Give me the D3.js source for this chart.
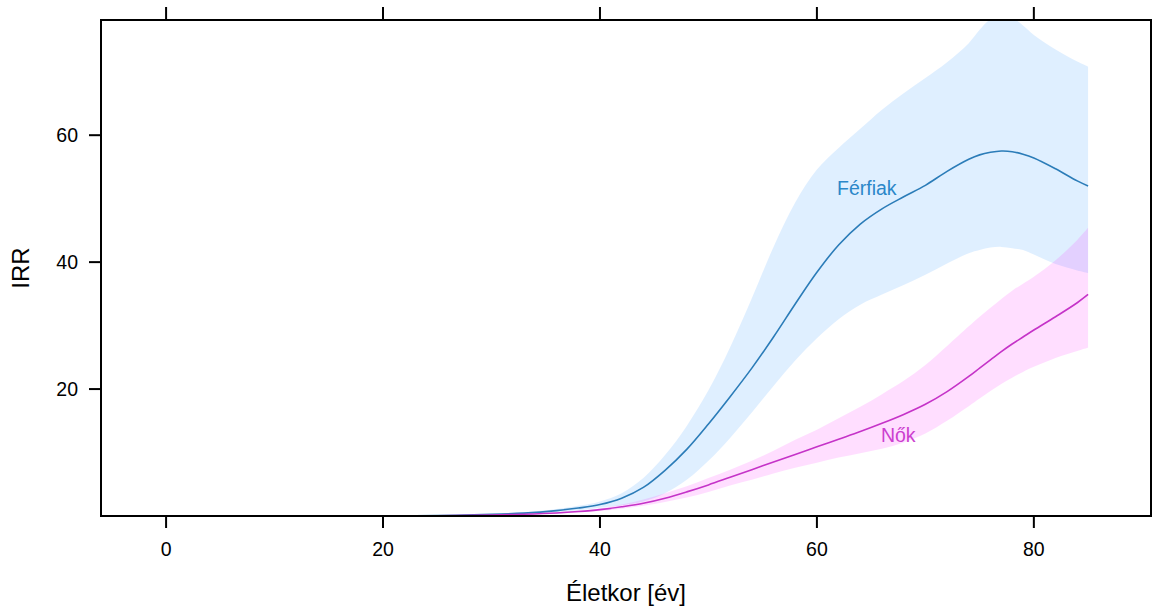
<!DOCTYPE html>
<html><head><meta charset="utf-8">
<script src="https://cdn.jsdelivr.net/npm/d3@7"></script>
<style>body{margin:0;background:#fff;} svg{display:block;font-family:"Liberation Sans",Arial,sans-serif;}</style>
</head><body>
<svg id="c" width="1153" height="608"></svg>
<script>
const ages = [20,25,30,33,36,38,40,42,44,46,48,50,52,54,56,58,60,62,64,66,68,70,72,74,75,76,77,78,79,80,82,84,85];
const menFit = [0.02,0.08,0.25,0.45,0.85,1.25,1.8,2.8,4.5,7.2,10.5,14.5,18.8,23.3,28.2,33.4,38.4,42.7,46.0,48.4,50.3,52.1,54.3,56.2,56.9,57.3,57.5,57.4,57.0,56.4,54.7,52.8,52.0];
const menUpper = [0.03,0.1,0.32,0.58,1.1,1.6,2.3,3.6,6.0,9.6,14.2,19.8,26.6,34.3,42.4,49.4,54.6,58.0,61.0,64.0,66.6,69.0,71.5,74.5,76.6,78.3,79.0,78.5,77.3,75.8,73.5,71.6,70.8];
const menLower = [0.01,0.05,0.18,0.33,0.62,0.9,1.3,1.7,2.3,3.6,5.7,8.7,12.3,16.3,20.5,24.5,28.0,31.0,33.3,34.9,36.4,38.0,39.8,41.4,41.9,42.3,42.4,42.2,41.9,41.2,39.7,38.7,38.3];
const womenFit = [0.01,0.05,0.15,0.28,0.48,0.7,1.0,1.45,2.0,2.8,3.8,4.9,6.1,7.3,8.5,9.7,10.9,12.1,13.3,14.6,16.0,17.6,19.6,22.0,23.3,24.6,25.9,27.1,28.2,29.3,31.4,33.6,34.9];
const womenUpper = [0.02,0.07,0.2,0.36,0.6,0.85,1.2,1.8,2.6,3.6,4.7,6.0,7.3,8.7,10.3,12.0,13.6,15.4,17.2,19.2,21.3,23.8,26.8,29.9,31.4,32.8,34.2,35.5,36.6,37.7,40.3,43.5,45.4];
const womenLower = [0.005,0.03,0.11,0.21,0.38,0.56,0.8,1.15,1.6,2.2,2.9,3.8,4.8,5.7,6.7,7.6,8.4,9.2,9.9,10.6,11.6,13.0,15.0,17.3,18.5,19.7,20.8,21.8,22.7,23.5,24.9,26.0,26.5];
const xTicks = [0,20,40,60,80];
const yTicks = [20,40,60];
const seriesNames = ["Férfiak","Nők"];
const labelPos = [{age:64.6, val:50.6},{age:67.5, val:11.7}];
const xTitle = "Életkor [év]";
const yTitle = "IRR";

const L=101, R=1151, T=20, B=516;
const svg = d3.select("#c");
const x = d3.scaleLinear().domain([-6.0, 90.8]).range([L,R]);
const y = d3.scaleLinear().domain([0, 78.15]).range([B,T]);

svg.append("defs").append("clipPath").attr("id","clip")
  .append("rect").attr("x",L).attr("y",T).attr("width",R-L).attr("height",B-T);

const g = svg.append("g").attr("clip-path","url(#clip)");
const curve = d3.curveCatmullRom.alpha(0.5);
const mk = (fit, lo, hi) => ages.map((a,i)=>({a, f:fit[i], lo:lo[i], hi:hi[i]}));
const men = mk(menFit, menLower, menUpper);
const women = mk(womenFit, womenLower, womenUpper);
const area = d3.area().x(d=>x(d.a)).y0(d=>y(d.lo)).y1(d=>y(d.hi)).curve(curve);
const line = d3.line().x(d=>x(d.a)).y(d=>y(d.f)).curve(curve);

g.append("path").datum(men).attr("d",area).attr("fill","rgb(0,128,255)").attr("fill-opacity",0.125);
g.append("path").datum(women).attr("d",area).attr("fill","rgb(255,0,255)").attr("fill-opacity",0.13);
g.append("path").datum(men).attr("d",line).attr("fill","none").attr("stroke","#2b7cb8").attr("stroke-width",1.6);
g.append("path").datum(women).attr("d",line).attr("fill","none").attr("stroke","#c533c8").attr("stroke-width",1.6);

const labelColors = ["#2b87c9","#cc3fcf"];
seriesNames.forEach((n,i)=>{
  svg.append("text").attr("x",x(labelPos[i].age)).attr("y",y(labelPos[i].val))
    .attr("text-anchor","middle").attr("font-size",19.5).attr("fill",labelColors[i]).text(n);
});

// frame
svg.append("rect").attr("x",L).attr("y",T).attr("width",R-L).attr("height",B-T)
  .attr("fill","none").attr("stroke","#000").attr("stroke-width",2);

// axes
const ax = svg.append("g").attr("stroke","#000").attr("stroke-width",2);
xTicks.forEach(v=>{
  ax.append("line").attr("x1",x(v)).attr("x2",x(v)).attr("y1",B).attr("y2",B+12);
  ax.append("line").attr("x1",x(v)).attr("x2",x(v)).attr("y1",T).attr("y2",T-13);
  svg.append("text").attr("x",x(v)).attr("y",556).attr("text-anchor","middle")
    .attr("font-size",19.5).attr("fill","#000").text(v);
});
yTicks.forEach(v=>{
  ax.append("line").attr("x1",L-12).attr("x2",L).attr("y1",y(v)).attr("y2",y(v));
  svg.append("text").attr("x",78).attr("y",y(v)).attr("dy","0.35em").attr("text-anchor","end")
    .attr("font-size",19.5).attr("fill","#000").text(v);
});

svg.append("text").attr("x",(L+R)/2).attr("y",601).attr("text-anchor","middle")
  .attr("font-size",24).attr("fill","#000").text(xTitle);
svg.append("text").attr("transform",`translate(29,${(T+B)/2}) rotate(-90)`).attr("text-anchor","middle")
  .attr("font-size",24).attr("fill","#000").text(yTitle);
</script>
</body></html>
